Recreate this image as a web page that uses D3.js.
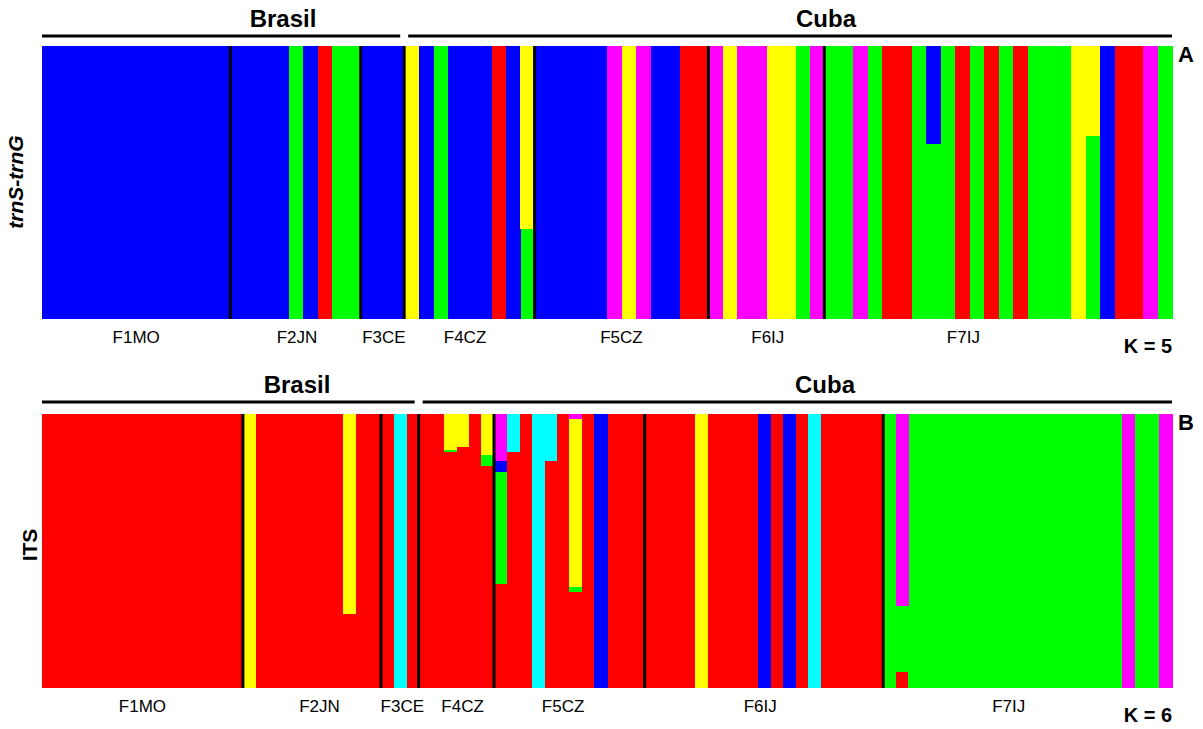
<!DOCTYPE html>
<html>
<head>
<meta charset="utf-8">
<script src="https://cdn.jsdelivr.net/npm/d3@7"></script>
<style>
  body { margin: 0; background: #fff; }
  text { font-family: Arial, "Liberation Sans", sans-serif; }
  rect { shape-rendering: crispEdges; }
</style>
</head>
<body>
<svg id="drawing_region"></svg>
<script>
// cluster colours (STRUCTURE style)
const colors = { G: '#00ff00', R: '#ff0000', B: '#0000ff', Y: '#ffff00', C: '#00ffff', M: '#ff00ff' };

// population groups and number of individuals
const groupsA = ['F1MO', 'F2JN', 'F3CE', 'F4CZ', 'F5CZ', 'F6IJ', 'F7IJ'];
const sizesA = [13, 9, 3, 9, 12, 8, 24];
const labelAtA = [6.5, 17.6, 23.6, 29.2, 40.0, 50.1, 63.6];

const groupsB = ['F1MO', 'F2JN', 'F3CE', 'F4CZ', 'F5CZ', 'F6IJ', 'F7IJ'];
const sizesB = [16, 11, 3, 6, 12, 19, 23];
const labelAtB = [8.0, 22.1, 28.7, 33.5, 41.5, 57.2, 77.0];

// stacking order bottom -> top
const keysA = ['G', 'R', 'B', 'Y', 'M'];
const keysB = ['R', 'G', 'B', 'Y', 'C', 'M'];

// membership per individual, "X" = 100 % cluster X, "X.67 Y.33" = mixed
const trnsA = [
  'B','B','B','B','B','B','B','B','B','B','B','B','B',
  'B','B','B','B','G','B','R','G','G',
  'B','B','B',
  'Y','B','G','B','B','B','R','B','Y.67 G.33',
  'B','B','B','B','B','M','Y','M','B','B','R','R',
  'M','Y','M','M','Y','Y','G','M',
  'G','G','M','G','R','R','G','B.36 G.64','G','R','G','R','G','R','G','G','G','Y','Y.33 G.67','B','R','R','M','G'
];

const itsB = [
  'R','R','R','R','R','R','R','R','R','R','R','R','R','R','R','R',
  'Y','R','R','R','R','R','R','R','Y.73 R.27','R','R',
  'R','C','R',
  'R','R','Y.13 G.01 R.86','Y.12 R.88','R','Y.15 G.04 R.81',
  'M.17 B.04 G.41 R.38','C.14 R.86','R','C','C.17 R.83','R','M.02 Y.61 G.02 R.35','R','B','R','R','R',
  'R','R','R','R','Y','R','R','R','R','B','R','B','R','C','R','R','R','R','R',
  'G','M.70 G.24 R.06','G','G','G','G','G','G','G','G','G','G','G','G','G','G','G','G','G','M','G','G','M'
];

const regionsA = [{ name: 'Brasil', from: 0, to: 25 }, { name: 'Cuba', from: 25, to: 78 }];
const regionsB = [{ name: 'Brasil', from: 0, to: 30 }, { name: 'Cuba', from: 30, to: 90 }];

function parse(s, keys) {
  let o = {};
  keys.forEach(k => o[k] = 0);
  s.split(' ').forEach(p => {
    let k = p[0];
    o[k] = p.length > 1 ? +p.slice(1) : 1;
  });
  return o;
}

class StructurePlot {
  constructor(config, data) {
    this.config = config;
    this.data = data;
    this.init();
  }

  init() {
    let self = this;
    let c = self.config;
    self.chart = d3.select(c.parent).append('g');

    self.rows = self.data.map((s, i) => Object.assign({ id: i }, parse(s, c.keys)));

    self.xscale = d3.scaleBand()
      .domain(d3.range(self.rows.length))
      .range([c.left, c.right])
      .paddingInner(0).paddingOuter(0);

    self.ipos = d3.scaleLinear()
      .domain([0, self.rows.length])
      .range([c.left, c.right]);

    self.yscale = d3.scaleLinear()
      .domain([0, 1])
      .range([c.bottom, c.top]);

    self.stack = d3.stack().keys(c.keys);
  }

  render() {
    let self = this;
    let c = self.config;

    let layers = self.stack(self.rows);
    self.chart.selectAll('g.layer')
      .data(layers)
      .join('g')
      .attr('class', 'layer')
      .attr('fill', d => colors[d.key])
      .selectAll('rect')
      .data(d => d.filter(v => v[1] - v[0] > 0))
      .join('rect')
      .attr('x', d => self.xscale(d.data.id))
      .attr('width', self.xscale.bandwidth() + 0.6)
      .attr('y', d => self.yscale(d[1]))
      .attr('height', d => self.yscale(d[0]) - self.yscale(d[1]));

    // black separators between populations
    let cum = d3.cumsum(c.sizes);
    self.chart.selectAll('line.sep')
      .data(Array.from(cum).slice(0, -1))
      .join('line')
      .attr('class', 'sep')
      .attr('x1', d => self.ipos(d)).attr('x2', d => self.ipos(d))
      .attr('y1', c.top).attr('y2', c.bottom)
      .attr('stroke', '#000').attr('stroke-width', 3);

    // population labels
    self.chart.selectAll('text.grp')
      .data(c.groups)
      .join('text')
      .attr('class', 'grp')
      .attr('x', (d, i) => self.ipos(c.labelAt[i]))
      .attr('y', c.bottom + 24)
      .attr('text-anchor', 'middle')
      .attr('font-size', 17)
      .text(d => d);

    // region headers
    let reg = self.chart.selectAll('g.region')
      .data(c.regions)
      .join('g').attr('class', 'region');
    reg.append('line')
      .attr('x1', d => d.from === 0 ? c.left : self.ipos(d.from) + 4)
      .attr('x2', d => d.to === self.rows.length ? c.right : self.ipos(d.to) - 4)
      .attr('y1', c.top - c.lineGap).attr('y2', c.top - c.lineGap)
      .attr('stroke', '#000').attr('stroke-width', 3);
    reg.append('text')
      .attr('x', (d, i) => c.headerX[i])
      .attr('y', c.top - c.lineGap - 9)
      .attr('text-anchor', 'middle')
      .attr('font-size', 24)
      .attr('font-weight', 'bold')
      .text(d => d.name);

    // panel letter, K value, y title
    self.chart.append('text')
      .attr('x', c.right + 6).attr('y', c.top + 16)
      .attr('font-size', 22).attr('font-weight', 'bold')
      .text(c.letter);
    self.chart.append('text')
      .attr('x', c.right).attr('y', c.bottom + 34)
      .attr('text-anchor', 'end')
      .attr('font-size', 20).attr('font-weight', 'bold')
      .text(c.kText);
    self.chart.append('text')
      .attr('transform', `translate(${c.titleX}, ${c.titleY}) rotate(-90)`)
      .attr('text-anchor', 'middle')
      .attr('font-size', 21).attr('font-weight', 'bold')
      .attr('font-style', c.titleItalic ? 'italic' : 'normal')
      .text(c.title);
  }
}

d3.select('#drawing_region')
  .attr('width', 1203)
  .attr('height', 729);

let plotA = new StructurePlot({
  parent: '#drawing_region', left: 42, right: 1172, top: 46, bottom: 319,
  keys: keysA, sizes: sizesA, groups: groupsA, labelAt: labelAtA, regions: regionsA,
  headerX: [283, 826], lineGap: 10, letter: 'A', kText: 'K = 5',
  title: 'trnS-trnG', titleItalic: true, titleX: 23, titleY: 182
}, trnsA);
plotA.render();

let plotB = new StructurePlot({
  parent: '#drawing_region', left: 42, right: 1172, top: 414, bottom: 688,
  keys: keysB, sizes: sizesB, groups: groupsB, labelAt: labelAtB, regions: regionsB,
  headerX: [297, 825], lineGap: 12, letter: 'B', kText: 'K = 6',
  title: 'ITS', titleItalic: false, titleX: 37, titleY: 545
}, itsB);
plotB.render();
</script>
</body>
</html>
